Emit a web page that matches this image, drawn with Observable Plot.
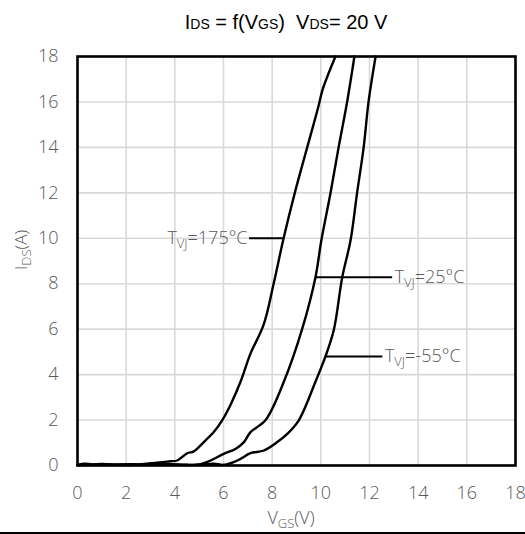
<!DOCTYPE html>
<html>
<head>
<meta charset="utf-8">
<script src="https://cdn.jsdelivr.net/npm/d3@7"></script>
<script src="https://cdn.jsdelivr.net/npm/@observablehq/plot@0.6"></script>
<style>
  html, body { margin: 0; padding: 0; background: #fff; }
  #chart { width: 525px; }
  #rule { width: 525px; height: 2px; background: #000; }
</style>
</head>
<body>
<div id="chart"></div>
<div id="rule"></div>
<script>
// ---- data ----
const xTicks = [0, 2, 4, 6, 8, 10, 12, 14, 16, 18];
const yTicks = [0, 2, 4, 6, 8, 10, 12, 14, 16, 18];

const t175_x = [0, 0.3, 0.6, 1.0, 1.5, 2.0, 2.5, 3.0, 3.5, 3.82, 4.1, 4.51, 4.78, 5.19, 5.6, 5.95, 6.3, 6.72, 7.1, 7.65, 8.06, 8.47, 8.93, 9.44, 9.9, 10.06, 10.26, 10.6];
const t175_y = [0.03, 0.08, 0.05, 0.07, 0.04, 0.06, 0.05, 0.1, 0.15, 0.19, 0.22, 0.54, 0.62, 1.03, 1.47, 2.0, 2.7, 3.74, 4.9, 6.2, 8.0, 10.0, 12.0, 14.0, 15.8, 16.5, 17.1, 18];

const t25_x = [0, 0.5, 1.0, 1.5, 2.0, 2.5, 3.0, 3.5, 4.0, 4.5, 5.0, 5.19, 5.47, 6.01, 6.49, 6.84, 7.11, 7.73, 8.5, 9.23, 9.78, 10.02, 10.4, 10.73, 11.08, 11.38];
const t25_y = [0.02, 0.05, 0.03, 0.04, 0.02, 0.04, 0.05, 0.08, 0.05, 0.02, 0.05, 0.1, 0.22, 0.51, 0.73, 1.03, 1.47, 2.0, 3.74, 6.0, 8.29, 9.9, 12, 14, 16, 18];

const tm55_x = [0, 1, 2, 3, 4, 4.5, 5.0, 5.6, 6.0, 6.42, 6.7, 7.11, 7.66, 8.21, 8.62, 9.1, 9.8, 10.19, 10.54, 10.88, 11.22, 11.49, 11.76, 11.96, 12.25];
const tm55_y = [0.02, 0.04, 0.03, 0.05, 0.05, 0.03, 0.04, 0.08, 0.03, 0.15, 0.29, 0.54, 0.66, 1.03, 1.39, 2.0, 3.74, 4.8, 6.0, 8.29, 9.9, 12, 14, 16, 18];

const seriesNames = ["175", "25", "-55"];
const labelTexts = ["=175°C", "=25°C", "=-55°C"];
const leaderX1 = [7.05, 9.78, 10.19];
const leaderX2 = [8.47, 12.93, 12.53];
const leaderY = [10.0, 8.29, 4.8];
const labelAnchor = ["end", "start", "start"];

// ---- build ----
function toRows(name, xs, ys) { return xs.map((x, i) => ({series: name, x, y: ys[i]})); }
const rows = [
  ...toRows("175", t175_x, t175_y),
  ...toRows("25", t25_x, t25_y),
  ...toRows("-55", tm55_x, tm55_y)
];
const leaders = seriesNames.map((s, i) => ({series: s, x1: leaderX1[i], x2: leaderX2[i], y: leaderY[i]}));

const tickFont = "'Open Sans', 'Lato', sans-serif";

const plot = Plot.plot({
  width: 525,
  height: 532,
  marginLeft: 77,
  marginRight: 10,
  marginTop: 56,
  marginBottom: 67,
  style: {fontFamily: tickFont, fontWeight: 300, fontSize: "18px", color: "#595959", background: "#fff"},
  x: {domain: [0, 18]},
  y: {domain: [0, 18]},
  marks: [
    Plot.gridX(xTicks, {stroke: "#d9d9d9", strokeOpacity: 1, strokeWidth: 1.6}),
    Plot.gridY(yTicks, {stroke: "#d9d9d9", strokeOpacity: 1, strokeWidth: 1.6}),
    Plot.axisX({ticks: xTicks, tickSize: 0, tickPadding: 21, label: null, fontSize: 18, fill: "#595959"}),
    Plot.axisY({ticks: yTicks, tickSize: 0, tickPadding: 19, label: null, fontSize: 18, fill: "#595959"}),
    Plot.line(rows, {x: "x", y: "y", z: "series", stroke: "#000", strokeWidth: 2.4, curve: "catmull-rom"}),
    Plot.link(leaders, {x1: "x1", x2: "x2", y1: "y", y2: "y", stroke: "#000", strokeWidth: 2}),
    Plot.frame({stroke: "#000", strokeWidth: 2.6})
  ]
});
document.getElementById("chart").appendChild(plot);

const sx = plot.scale("x"), sy = plot.scale("y");
const svg = d3.select(plot);

// title
const title = svg.append("text")
  .attr("x", 286).attr("y", 29)
  .attr("text-anchor", "middle")
  .attr("font-family", "'Liberation Sans', Arial, sans-serif")
  .attr("font-weight", 400)
  .attr("font-size", 20)
  .attr("fill", "#000");
title.append("tspan").text("I");
title.append("tspan").attr("font-size", 14).text("DS");
title.append("tspan").text(" = f(V");
title.append("tspan").attr("font-size", 14).text("GS");
title.append("tspan").text(")  V");
title.append("tspan").attr("font-size", 14).text("DS");
title.append("tspan").text("= 20 V");

// x label
const xl = svg.append("text")
  .attr("x", 291).attr("y", 524)
  .attr("text-anchor", "middle")
  .attr("font-family", tickFont).attr("font-weight", 300)
  .attr("font-size", 18).attr("fill", "#595959");
xl.append("tspan").text("V");
xl.append("tspan").attr("font-size", 13).attr("dy", 4).text("GS");
xl.append("tspan").attr("dy", -4).text("(V)");

// y label
const yl = svg.append("text")
  .attr("transform", "translate(27,250) rotate(-90)")
  .attr("text-anchor", "middle")
  .attr("font-family", tickFont).attr("font-weight", 300)
  .attr("font-size", 17).attr("fill", "#595959");
yl.append("tspan").text("I");
yl.append("tspan").attr("font-size", 13).attr("dy", 4).text("DS");
yl.append("tspan").attr("dy", -4).text("(A)");

// series labels
leaders.forEach((d, i) => {
  const anchor = labelAnchor[i];
  const x = anchor === "end" ? sx.apply(d.x1) - 1 : sx.apply(d.x2) + 3;
  const t = svg.append("text")
    .attr("x", x).attr("y", sy.apply(d.y) + 6)
    .attr("text-anchor", anchor)
    .attr("font-family", tickFont).attr("font-weight", 300)
    .attr("font-size", 18).attr("fill", "#595959");
  t.append("tspan").text("T");
  t.append("tspan").attr("font-size", 13).attr("dy", 4).text("VJ");
  t.append("tspan").attr("dy", -4).text(labelTexts[i]);
});
</script>
</body>
</html>
